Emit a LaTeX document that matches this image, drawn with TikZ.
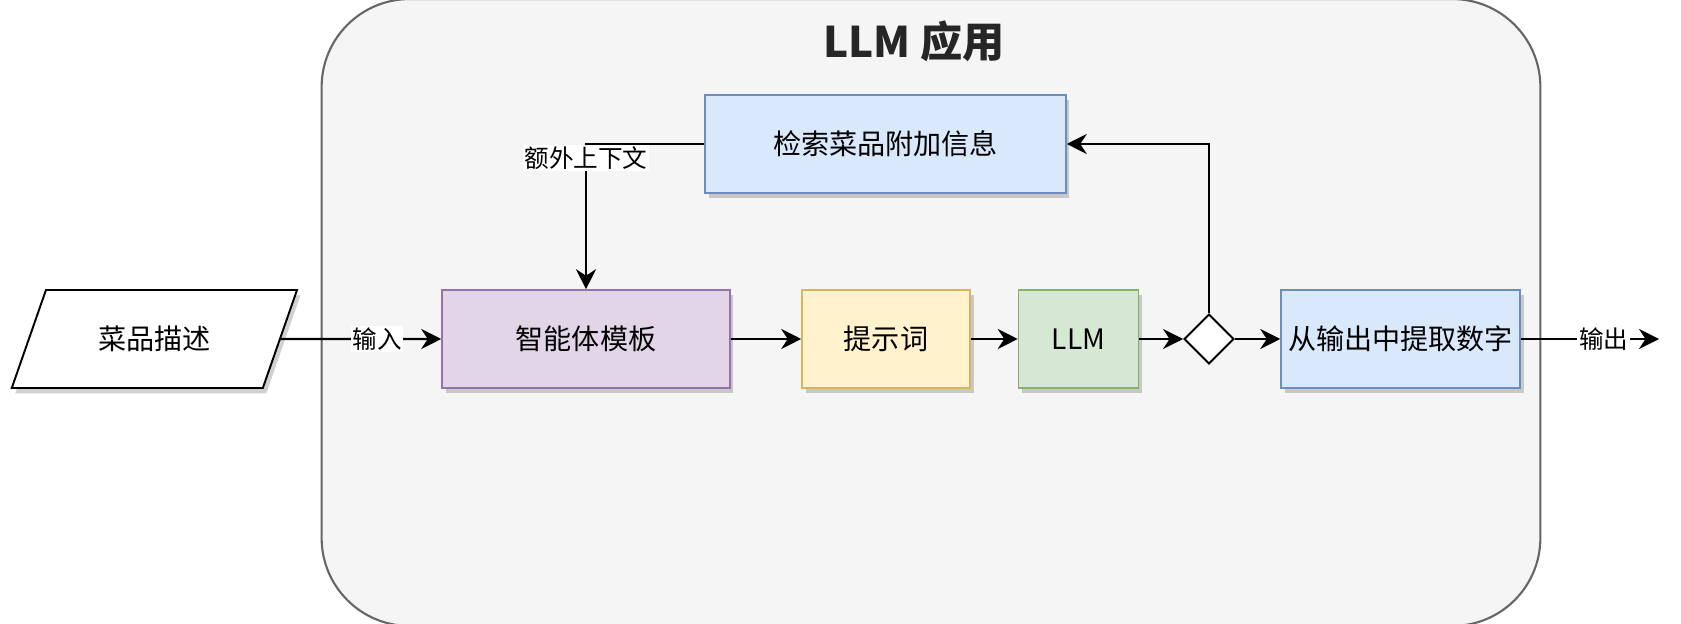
\documentclass[tikz,border=0pt]{standalone}
\usepackage{fontspec}
\newfontfamily\cjk{Noto Sans CJK SC}
\usepackage{tikz}
\usetikzlibrary{arrows.meta,shapes.geometric,shadows}
\definecolor{appfill}{HTML}{F5F5F5}
\definecolor{appline}{HTML}{666666}
\definecolor{bluef}{HTML}{DAE8FC}
\definecolor{bluel}{HTML}{6C8EBF}
\definecolor{purplef}{HTML}{E1D5E7}
\definecolor{purplel}{HTML}{9673A6}
\definecolor{yellowf}{HTML}{FFF2CC}
\definecolor{yellowl}{HTML}{D6B656}
\definecolor{greenf}{HTML}{D5E8D4}
\definecolor{greenl}{HTML}{82B366}

\begin{document}
\begin{tikzpicture}[
  x=0.02cm, y=-0.02cm,
  box/.style={rectangle, draw=#1l, fill=#1f, line width=0.9pt,
              minimum height=1.96cm, inner sep=2pt,
              font=\cjk\fontsize{16}{19}\selectfont,
              drop shadow={shadow xshift=2pt, shadow yshift=-3pt,
                           opacity=0.18, fill=black}},
  lbl/.style={fill=white, inner sep=1pt, font=\cjk\fontsize{14}{16}\selectfont},
  flow/.style={->, line width=1.15pt},
  >={Stealth[length=0.4cm, width=0.4cm]}
]
\useasboundingbox (0,0) rectangle (1681,624);
% ---- container: the LLM application ----
\node[draw=appline, fill=appfill, line width=1.2pt, rounded corners=1.76cm,
      minimum width=24.38cm, minimum height=12.54cm] (app) at (931,312.5) {};
\node[font=\cjk\bfseries\fontsize{24}{28}\selectfont, text=black!85] (title)
  at (914,41) {LLM 应用};

% ---- nodes ----
\node[trapezium, trapezium left angle=62.5, trapezium right angle=117.5,
      trapezium stretches=true, draw, fill=white, line width=1.1pt,
      minimum width=5.74cm, minimum height=1.96cm,
      font=\cjk\fontsize{16}{19}\selectfont,
      drop shadow={shadow xshift=2pt, shadow yshift=-3pt, opacity=0.18, fill=black}]
  (desc) at (154.4,339) {菜品描述};
\node[box=blue, minimum width=7.22cm] (retr) at (885.5,144) {检索菜品附加信息};
\node[box=purple, minimum width=5.76cm] (tmpl) at (586,339) {智能体模板};
\node[box=yellow, minimum width=3.36cm] (prompt) at (886,339) {提示词};
\node[box=green, minimum width=2.4cm] (llm) at (1078.5,339) {LLM};
\node[diamond, draw, fill=white, line width=1.1pt, inner sep=0pt,
      minimum width=1cm, minimum height=1cm] (dec) at (1209,339) {};
\node[box=blue, minimum width=4.78cm] (extract) at (1400.5,339) {从输出中提取数字};
\coordinate (out) at (1659,339);

% ---- connectors ----
\draw[flow] (desc.east) -- node[lbl, pos=0.6] (inlbl) {输入} (tmpl.west);
\foreach \a/\b in {tmpl/prompt, prompt/llm, llm/dec, dec/extract}{
  \draw[flow] (\a) -- (\b);
}
\draw[flow] (extract.east) -- node[lbl, pos=0.6] (outlbl) {输出} (out);
% feedback loop: decision -> retrieval -> extra context
\draw[flow] (dec.north) |- (retr.east);
\draw[flow] (retr.west) -| node[lbl, pos=0.5, anchor=north] (ctx) {额外上下文}
  (tmpl.north);
\end{tikzpicture}
\end{document}
